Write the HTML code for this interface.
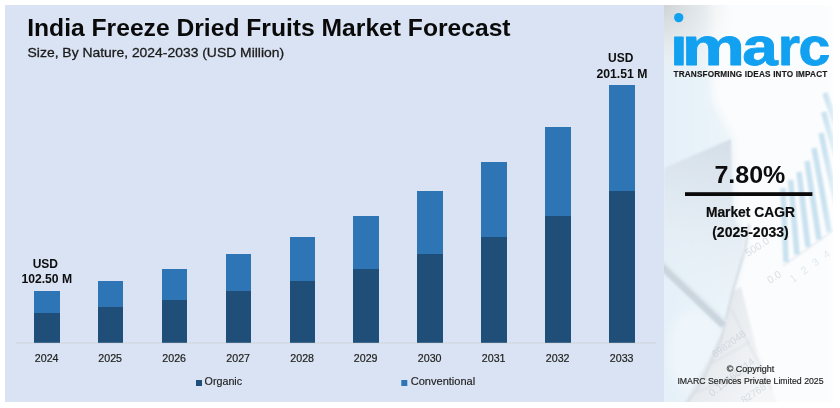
<!DOCTYPE html>
<html lang="en">
<head>
<meta charset="utf-8">
<title>India Freeze Dried Fruits Market Forecast</title>
<style>
html,body{margin:0;padding:0;background:#ffffff;}
body{width:840px;height:408px;overflow:hidden;}
svg{display:block;}
text{font-family:"Liberation Sans",sans-serif;}
.b{font-weight:700;}
.f{font-family:"Liberation Sans",sans-serif;fill:#b9c4cf;}
</style>
</head>
<body>
<svg width="840" height="408" viewBox="0 0 840 408">
<defs>
<linearGradient id="rp" x1="664" y1="0" x2="833" y2="0" gradientUnits="userSpaceOnUse">
<stop offset="0" stop-color="#e5f0f8"/>
<stop offset="0.3" stop-color="#e9f3f9"/>
<stop offset="0.5" stop-color="#eff6fa"/>
<stop offset="1" stop-color="#f4f8fb"/>
</linearGradient>
<radialGradient id="cg" cx="664" cy="5" r="75" gradientUnits="userSpaceOnUse">
<stop offset="0" stop-color="#cfd3d6" stop-opacity="1"/>
<stop offset="0.5" stop-color="#e2e5e7" stop-opacity="0.7"/>
<stop offset="1" stop-color="#f4f6f7" stop-opacity="0"/>
</radialGradient>
<linearGradient id="tri" x1="731" y1="140" x2="680" y2="300" gradientUnits="userSpaceOnUse">
<stop offset="0" stop-color="#cfd9e3"/>
<stop offset="0.6" stop-color="#e3ebf2" stop-opacity="0.8"/>
<stop offset="1" stop-color="#e8f1f8" stop-opacity="0"/>
</linearGradient>
<linearGradient id="pap" x1="705" y1="330" x2="775" y2="360" gradientUnits="userSpaceOnUse">
<stop offset="0" stop-color="#e2e7ec"/>
<stop offset="0.5" stop-color="#eceff2"/>
<stop offset="1" stop-color="#f4f6f8"/>
</linearGradient>
<linearGradient id="fadeR" x1="824" y1="0" x2="834" y2="0" gradientUnits="userSpaceOnUse">
<stop offset="0" stop-color="#ffffff" stop-opacity="0"/>
<stop offset="1" stop-color="#ffffff" stop-opacity="0.5"/>
</linearGradient>
<filter id="bl" x="-10%" y="-10%" width="120%" height="120%"><feGaussianBlur stdDeviation="0.9"/></filter>
<filter id="bl2" x="-20%" y="-10%" width="140%" height="120%"><feGaussianBlur stdDeviation="5"/></filter>
<clipPath id="rc"><rect x="664" y="5" width="169" height="397"/></clipPath>
<clipPath id="lc"><rect x="660" y="34.3" width="180" height="40"/></clipPath>
</defs>
<rect x="0" y="0" width="840" height="408" fill="#ffffff"/>
<rect x="5" y="5" width="659" height="397" fill="#dae3f3"/>
<g clip-path="url(#rc)">
<rect x="664" y="5" width="169" height="397" fill="#fbfcfd"/>
<g filter="url(#bl2)">
<polygon points="620,-30 706,-30 712,100 733,139 736,215 747,232 742,262 732,300 709,360 676,440 620,440" fill="url(#rp)"/>
</g>
<rect x="664" y="5" width="169" height="120" fill="url(#cg)"/>
<g filter="url(#bl)">
<polygon points="650,225 741,225 747,233 742,262 732,300 709,360 676,420 650,420" fill="url(#rp)"/>
<polygon points="664,168 731,139 733,215 744,240 738,280 726,322 664,264" fill="url(#tri)" opacity="0.8"/>
<ellipse cx="694" cy="352" rx="26" ry="42" fill="#f6fafd" opacity="0.55" filter="url(#bl2)"/>
<polygon points="733,291 741,287 757,350 772,390 778,404 684,404 707,362 722,330" fill="url(#pap)"/>
<polyline points="749,224 745,250 733,290 721,340 702,382 686,404" fill="none" stroke="#d3dbe3" stroke-width="2"/>
<line x1="660" y1="264" x2="724" y2="325" stroke="#cad5de" stroke-width="8.5"/>
<line x1="662" y1="260" x2="727" y2="322" stroke="#e3ebf1" stroke-width="3"/>
<line x1="783" y1="188" x2="786" y2="262" stroke="#c9e2f0" stroke-width="5.6"/>
<line x1="790.6" y1="180" x2="797" y2="254.5" stroke="#c9e2f0" stroke-width="5.6"/>
<line x1="799" y1="172" x2="808" y2="247" stroke="#c9e2f0" stroke-width="5.6"/>
<line x1="807" y1="161" x2="819" y2="239.5" stroke="#c9e2f0" stroke-width="5.6"/>
<line x1="814" y1="148" x2="829.5" y2="232" stroke="#c9e2f0" stroke-width="5.6"/>
<line x1="821" y1="133" x2="841" y2="224" stroke="#c9e2f0" stroke-width="5.6"/>
<line x1="823.7" y1="112" x2="845" y2="185" stroke="#c9e2f0" stroke-width="5.6"/>
<line x1="825" y1="93" x2="845" y2="150" stroke="#c9e2f0" stroke-width="5.6"/>
<line x1="783" y1="266" x2="840" y2="226" stroke="#d2dde6" stroke-width="1"/>
<line x1="731" y1="309" x2="772" y2="390" stroke="#d5dae0" stroke-width="1"/>
<line x1="712" y1="363" x2="750" y2="342" stroke="#d5dae0" stroke-width="1"/>
<line x1="697" y1="392" x2="762" y2="366" stroke="#d5dae0" stroke-width="1"/>
</g>
<g opacity="0.5">
<text class="f" font-size="10.5" transform="translate(748,257) rotate(-33)">500.0</text>
<text class="f" font-size="10.5" transform="translate(770,284) rotate(-33)">0.0</text>
<text class="f" font-size="10.5" fill="#bcd6e6" transform="translate(793,283) rotate(-36)" style="fill:#bdd7e7" textLength="47">1 2 3 4</text>
<text class="f" font-size="10" transform="translate(715,358) rotate(-36)">6982048</text>
<text class="f" font-size="10.5" transform="translate(712,397) rotate(-38)">0.15786714</text>
<text class="f" font-size="10" transform="translate(744,404) rotate(-34)">82768</text>
</g>
<rect x="800" y="5" width="33" height="397" fill="url(#fadeR)"/>
</g>
<text class="b" x="27.2" y="35.9" font-size="24.8" fill="#0a0a0a" textLength="483.4" lengthAdjust="spacingAndGlyphs">India Freeze Dried Fruits Market Forecast</text>
<text x="27.6" y="56.6" font-size="13.6" fill="#1a1a1a" stroke="#1a1a1a" stroke-width="0.3" textLength="256.5" lengthAdjust="spacingAndGlyphs">Size, By Nature, 2024-2033 (USD Million)</text>
<rect x="16" y="342.4" width="640" height="1.1" fill="#d0d5db"/>
<rect x="34" y="291" width="26" height="22" fill="#2e75b6"/><rect x="34" y="313" width="26" height="29.8" fill="#1f4e79"/><text x="46.7" y="361.5" font-size="10.67" fill="#222" stroke="#222" stroke-width="0.2" text-anchor="middle">2024</text>
<rect x="98" y="281" width="25" height="26" fill="#2e75b6"/><rect x="98" y="307" width="25" height="35.8" fill="#1f4e79"/><text x="110.2" y="361.5" font-size="10.67" fill="#222" stroke="#222" stroke-width="0.2" text-anchor="middle">2025</text>
<rect x="162" y="269" width="25" height="31" fill="#2e75b6"/><rect x="162" y="300" width="25" height="42.8" fill="#1f4e79"/><text x="174.2" y="361.5" font-size="10.67" fill="#222" stroke="#222" stroke-width="0.2" text-anchor="middle">2026</text>
<rect x="226" y="254" width="25" height="37" fill="#2e75b6"/><rect x="226" y="291" width="25" height="51.8" fill="#1f4e79"/><text x="238.2" y="361.5" font-size="10.67" fill="#222" stroke="#222" stroke-width="0.2" text-anchor="middle">2027</text>
<rect x="290" y="237" width="25" height="44" fill="#2e75b6"/><rect x="290" y="281" width="25" height="61.8" fill="#1f4e79"/><text x="302.2" y="361.5" font-size="10.67" fill="#222" stroke="#222" stroke-width="0.2" text-anchor="middle">2028</text>
<rect x="353" y="216" width="26" height="53" fill="#2e75b6"/><rect x="353" y="269" width="26" height="73.8" fill="#1f4e79"/><text x="365.7" y="361.5" font-size="10.67" fill="#222" stroke="#222" stroke-width="0.2" text-anchor="middle">2029</text>
<rect x="417" y="191" width="26" height="63" fill="#2e75b6"/><rect x="417" y="254" width="26" height="88.8" fill="#1f4e79"/><text x="429.7" y="361.5" font-size="10.67" fill="#222" stroke="#222" stroke-width="0.2" text-anchor="middle">2030</text>
<rect x="481" y="162" width="26" height="75" fill="#2e75b6"/><rect x="481" y="237" width="26" height="105.8" fill="#1f4e79"/><text x="493.7" y="361.5" font-size="10.67" fill="#222" stroke="#222" stroke-width="0.2" text-anchor="middle">2031</text>
<rect x="545" y="127" width="26" height="89" fill="#2e75b6"/><rect x="545" y="216" width="26" height="126.8" fill="#1f4e79"/><text x="557.7" y="361.5" font-size="10.67" fill="#222" stroke="#222" stroke-width="0.2" text-anchor="middle">2032</text>
<rect x="609" y="85" width="26" height="106" fill="#2e75b6"/><rect x="609" y="191" width="26" height="151.8" fill="#1f4e79"/><text x="621.7" y="361.5" font-size="10.67" fill="#222" stroke="#222" stroke-width="0.2" text-anchor="middle">2033</text>
<text class="b" x="45.3" y="267.7" font-size="12" fill="#0d0d0d" text-anchor="middle">USD</text>
<text class="b" x="21.4" y="283.4" font-size="12" fill="#0d0d0d" textLength="50.8" lengthAdjust="spacingAndGlyphs">102.50 M</text>
<text class="b" x="620.7" y="61.6" font-size="12" fill="#0d0d0d" text-anchor="middle">USD</text>
<text class="b" x="596.4" y="77.8" font-size="12" fill="#0d0d0d" textLength="51" lengthAdjust="spacingAndGlyphs">201.51 M</text>
<rect x="196" y="380" width="6" height="6" fill="#1f4e79"/>
<text x="204.6" y="384.8" font-size="10.2" fill="#222" stroke="#222" stroke-width="0.15" textLength="37.5" lengthAdjust="spacingAndGlyphs">Organic</text>
<rect x="401.3" y="380" width="6" height="6" fill="#2e75b6"/>
<text x="410.7" y="384.8" font-size="10.2" fill="#222" stroke="#222" stroke-width="0.15" textLength="64.5" lengthAdjust="spacingAndGlyphs">Conventional</text>
<circle cx="678.7" cy="17.6" r="4.7" fill="#12a0f0"/>
<g clip-path="url(#lc)"><text class="b" aria-label="imarc" y="65" font-size="54.5" fill="#12a0f0" stroke="#12a0f0" stroke-width="0.8" stroke-linejoin="round"><tspan x="670.2" textLength="17.4" lengthAdjust="spacingAndGlyphs">i</tspan><tspan x="681.7" textLength="63.3" lengthAdjust="spacingAndGlyphs">m</tspan><tspan x="742.2" textLength="35.6" lengthAdjust="spacingAndGlyphs">a</tspan><tspan x="777.8" textLength="22.3" lengthAdjust="spacingAndGlyphs">r</tspan><tspan x="798.6" textLength="31.8" lengthAdjust="spacingAndGlyphs">c</tspan></text></g>
<text class="b" x="673.5" y="77.2" font-size="8.2" fill="#1a1a1a" stroke="#1a1a1a" stroke-width="0.15" textLength="153.8" lengthAdjust="spacing">TRANSFORMING IDEAS INTO IMPACT</text>
<text class="b" x="714.4" y="182.9" font-size="24" fill="#0d0d0d" textLength="71" lengthAdjust="spacingAndGlyphs">7.80%</text>
<rect x="685" y="192.2" width="127.4" height="3.8" fill="#0a0a0a"/>
<text class="b" x="705.9" y="216.7" font-size="13.8" fill="#0d0d0d" stroke="#0d0d0d" stroke-width="0.2" textLength="89" lengthAdjust="spacingAndGlyphs">Market CAGR</text>
<text class="b" x="712.2" y="236.6" font-size="13.8" fill="#0d0d0d" stroke="#0d0d0d" stroke-width="0.2" textLength="76.6" lengthAdjust="spacingAndGlyphs">(2025-2033)</text>
<text x="726.7" y="372" font-size="8.4" fill="#222" stroke="#222" stroke-width="0.15" textLength="47.5" lengthAdjust="spacingAndGlyphs">© Copyright</text>
<text x="677.4" y="384.3" font-size="8.4" fill="#222" stroke="#222" stroke-width="0.15" textLength="146.2" lengthAdjust="spacingAndGlyphs">IMARC Services Private Limited 2025</text>
</svg>
</body>
</html>
